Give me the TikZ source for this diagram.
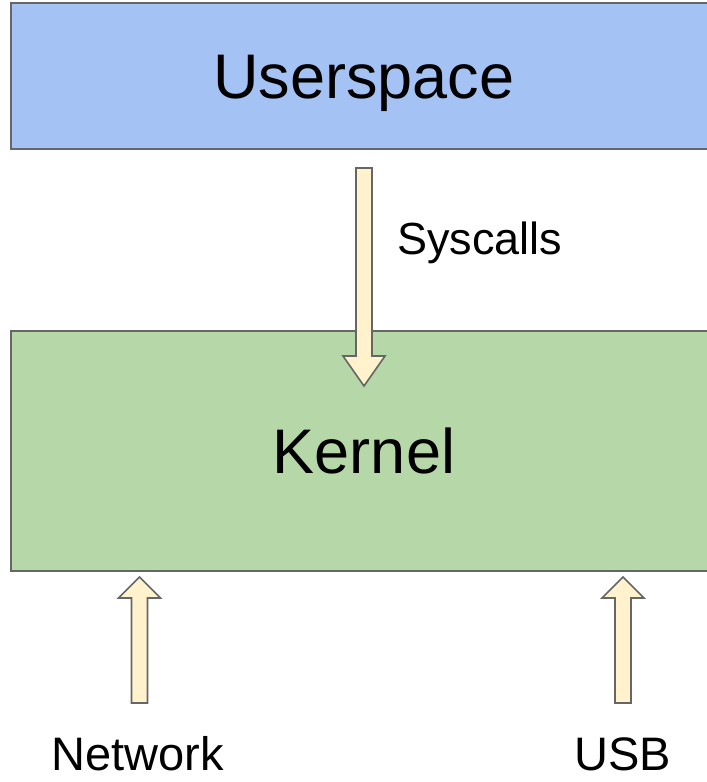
\documentclass[tikz,border=0pt]{standalone}
\usepackage{fontspec}
\setmainfont{Liberation Sans}
\usetikzlibrary{calc}
\definecolor{userfill}{HTML}{A4C2F4}
\definecolor{kernfill}{HTML}{B6D7A8}
\definecolor{flowfill}{HTML}{FFF2CC}
\definecolor{frameline}{HTML}{666666}
% block arrow from #1 to tip #2, head length #3
\newcommand{\blockarrow}[3]{%
 \coordinate (hb) at ($(#2)!#3!(#1)$);
 \draw[flowarrow] ($(#1)!8pt!90:(#2)$)--($(hb)!8pt!-90:(#1)$)--($(hb)!21pt!-90:(#1)$)--(#2)
 --($(hb)!21pt!90:(#1)$)--($(hb)!8pt!90:(#1)$)--($(#1)!8pt!-90:(#2)$)--cycle;}

\begin{document}
\begin{tikzpicture}[x=1pt,y=1pt,line join=miter,
 layer/.style={draw=frameline,line width=2pt,minimum width=706pt,inner sep=0pt,
  text height=45pt,text depth=0pt,font=\fontsize{63}{70}\selectfont},
 flowarrow/.style={draw=frameline,fill=flowfill,line width=1.6pt},
 lbl/.style={inner sep=0pt,anchor=base}]
\useasboundingbox (0,0) rectangle (707,782);
\clip (0,0) rectangle (707,782);
% the two layers, cut off at the right edge
\node[layer,fill=userfill,minimum height=146pt] (userspace) at (364,706) {Userspace};
\node[layer,fill=kernfill,minimum height=240pt] (kernel) at (364,331) {Kernel};
% syscalls into the kernel
\coordinate (sysfrom) at (364,614);
\coordinate (systo) at (364,396);
\blockarrow{sysfrom}{systo}{30pt}
\node[lbl,anchor=base west,font=\fontsize{45}{50}\selectfont] (syscalls) at (397,527) {Syscalls};
% devices below the kernel
\node[lbl,font=\fontsize{47}{52}\selectfont] (network) at (137.5,11) {Network};
\node[lbl,font=\fontsize{47}{52}\selectfont] (usb) at (622.5,11) {USB};
\coordinate (netfrom) at (139.5,79);
\coordinate (netto) at (139.5,205);
\coordinate (usbfrom) at (623,79);
\coordinate (usbto) at (623,205);
\blockarrow{netfrom}{netto}{21pt}
\blockarrow{usbfrom}{usbto}{21pt}
\end{tikzpicture}
\end{document}
